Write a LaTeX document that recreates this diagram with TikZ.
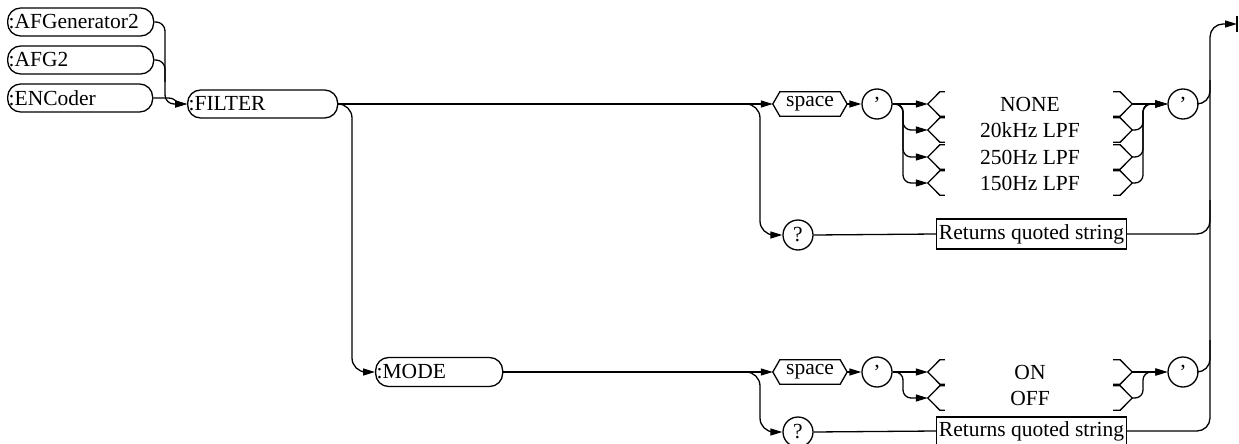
\documentclass[tikz,border=0pt]{standalone}
\usepackage{fontspec}
\setmainfont{Liberation Serif}
\usetikzlibrary{arrows.meta}
\tikzset{
  ln/.style={line width=1.3pt},
  arr/.style={-{Triangle[length=12pt,width=7pt]}},
  txt/.style={font=\fontsize{21.5}{25}\selectfont},
  rbox/.style={txt, draw, ln, rounded corners=13pt, minimum height=28pt, inner xsep=1pt, inner ysep=0pt, align=left, anchor=west},
  circ/.style={txt, draw, ln, circle, minimum size=30pt, inner sep=0pt},
  hexnode/.style={txt, minimum width=74pt, minimum height=24pt, inner sep=0pt},
  choice/.style={txt, minimum width=204pt, minimum height=24pt, inner sep=0pt},
  retbox/.style={txt, draw, ln, minimum width=190pt, minimum height=30pt, inner sep=0pt},
}
\newcommand\hexdraw[1]{\draw[ln] (#1.west) -- ([xshift=7pt]#1.north west) -- ([xshift=-7pt]#1.north east) -- (#1.east) -- ([xshift=-7pt]#1.south east) -- ([xshift=7pt]#1.south west) -- cycle;}
\newcommand\choicebrk[1]{%
  \draw[ln] ([xshift=17pt]#1.north west) -- ([xshift=12pt]#1.north west) -- (#1.west) -- ([xshift=12pt]#1.south west) -- ([xshift=17pt]#1.south west);
  \draw[ln] ([xshift=-19pt]#1.north east) -- ([xshift=-12pt]#1.north east) -- (#1.east) -- ([xshift=-12pt]#1.south east) -- ([xshift=-19pt]#1.south east);}
\begin{document}
\begin{tikzpicture}[x=1pt,y=-1pt]
\useasboundingbox (0,0) rectangle (1239,444);
% left keyword boxes
\node[rbox, text width=144pt] (afgen) at (7,22) {:AFGenerator2};
\node[rbox, text width=144pt] (afg2) at (7,60) {:AFG2};
\node[rbox, text width=143pt] (enc) at (7,98) {:ENCoder};
\node[rbox, text width=148pt] (filter) at (187,104) {:FILTER};
\node[rbox, text width=125pt, minimum height=29pt] (mode) at (375,372) {:MODE};
% top row
\node[hexnode] (sp1) at (810,104) {space};
\hexdraw{sp1}
\node[circ] (c1) at (877,104) {'};
\node[choice] (ch1) at (1030,104) {NONE};
\node[choice] (ch2) at (1030,130) {20kHz LPF};
\node[choice] (ch3) at (1030,157) {250Hz LPF};
\node[choice] (ch4) at (1030,183) {150Hz LPF};
\choicebrk{ch1}\choicebrk{ch2}\choicebrk{ch3}\choicebrk{ch4}
\node[circ] (cq1) at (1183,104) {'};
\node[circ] (q1) at (798,235) {?};
\node[retbox] (ret1) at (1031.5,234) {Returns quoted string};
% bottom row
\node[hexnode] (sp2) at (810,372) {space};
\hexdraw{sp2}
\node[circ] (c2) at (877,372) {'};
\node[choice] (on) at (1030,372) {ON};
\node[choice] (off) at (1030,398) {OFF};
\choicebrk{on}\choicebrk{off}
\node[circ] (cq2) at (1183,372) {'};
\node[circ] (q2) at (798,432) {?};
\node[retbox, minimum height=28pt] (ret2) at (1031.5,431) {Returns quoted string};
% end marker
\coordinate (endpt) at (1237,24);
\draw[ln] ([yshift=8pt]endpt) -- ([yshift=-8pt]endpt);
% left connectors
\draw[ln, arr, rounded corners=9pt] (afgen.east) -- (165,22) -- (165,104) -- (filter.west);
\draw[ln, rounded corners=9pt] (afg2.east) -- (165,60) -- (165,82);
\draw[ln, arr] (enc.east) -- (168,98) to[out=0,in=180] (filter.west);
% filter to its branches
\draw[ln, arr] (filter.east) -- (sp1.west);
\draw[ln, arr, rounded corners=14pt] (filter.east) -- (352,104) -- (352,372) -- (mode.west);
\coordinate (b1) at (740,104);
\draw[ln, arr, rounded corners=14pt] (b1) -- (760,104) -- (760,235) -- (q1.west);
\draw[ln, arr] (sp1.east) -- (c1.west);
\draw[ln, arr] (c1.east) -- (ch1.west);
\draw[ln, arr, rounded corners=8pt] (c1.east) -- (903,104) -- (903,130) -- (ch2.west);
\draw[ln, arr, rounded corners=8pt] (c1.east) -- (903,104) -- (903,157) -- (ch3.west);
\draw[ln, arr, rounded corners=8pt] (c1.east) -- (903,104) -- (903,183) -- (ch4.west);
\draw[ln, arr] (ch1.east) -- (cq1.west);
\draw[ln, arr, rounded corners=8pt] (ch2.east) -- (1143,130) -- (1143,104) -- (cq1.west);
\draw[ln, arr, rounded corners=8pt] (ch3.east) -- (1143,157) -- (1143,104) -- (cq1.west);
\draw[ln, arr, rounded corners=8pt] (ch4.east) -- (1143,183) -- (1143,104) -- (cq1.west);
\draw[ln] (q1.east) -- (ret1.west);
% mode branches
\draw[ln, arr] (mode.east) -- (sp2.west);
\coordinate (b2) at (740,372);
\draw[ln, arr, rounded corners=14pt] (b2) -- (760,372) -- (760,432) -- (q2.west);
\draw[ln, arr] (sp2.east) -- (c2.west);
\draw[ln, arr] (c2.east) -- (on.west);
\draw[ln, arr, rounded corners=8pt] (c2.east) -- (903,372) -- (903,398) -- (off.west);
\draw[ln, arr] (on.east) -- (cq2.west);
\draw[ln, arr, rounded corners=8pt] (off.east) -- (1143,398) -- (1143,372) -- (cq2.west);
\draw[ln] (q2.east) -- (ret2.west);
% right collector
\draw[ln, arr, rounded corners=13pt] (ret2.east) -- (1210,431) -- (1210,24) -- (endpt);
\draw[ln, rounded corners=13pt] (ret1.east) -- (1210,234) -- (1210,200);
\draw[ln, rounded corners=13pt] (cq1.east) -- (1210,104) -- (1210,80);
\draw[ln, rounded corners=13pt] (cq2.east) -- (1210,372) -- (1210,340);
\end{tikzpicture}
\end{document}
